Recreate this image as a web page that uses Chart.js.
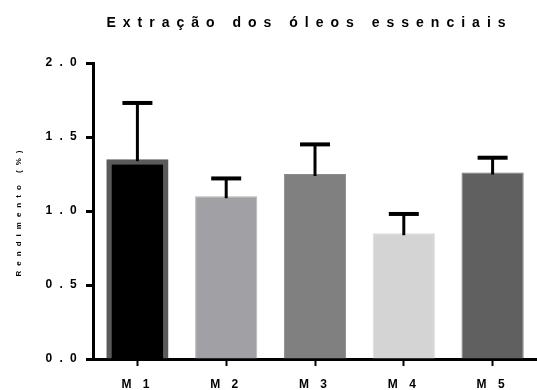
<!DOCTYPE html>
<html>
<head>
<meta charset="utf-8">
<script src="https://cdn.jsdelivr.net/npm/chart.js@4/dist/chart.umd.min.js"></script>
<style>
    html, body { margin: 0; padding: 0; background: #fff; }
    canvas { display: block; }
</style>
</head>
<body>
<canvas id="oilChart" width="537" height="390"></canvas>
<script>
// ===================================
// DATA
// ===================================
const titleText = 'Extração dos óleos essenciais';
const yTitle = 'Rendimento (%)';
const samples = ['M 1', 'M 2', 'M 3', 'M 4', 'M 5'];
const yields = [1.35, 1.10, 1.25, 0.85, 1.26];
const yieldErrors = [0.38, 0.12, 0.20, 0.13, 0.10];
const yTicks = [0.0, 0.5, 1.0, 1.5, 2.0];

const fillColors = ['#000000', '#a1a0a5', '#808080', '#d4d4d4', '#606060'];
const edgeColors = ['#5a5a5a', '#b4b4b8', '#8c8c8c', '#dcdcdc', '#6c6c6c'];
const edgeWidths = [5, 1, 1, 1, 1];

const FONT = "'Liberation Sans', Arial, sans-serif";

// ===================================
// PLUGINS
// ===================================

// Upper error bars, drawn from the bar scales
const errorBars = {
    id: 'errorBars',
    afterDatasetsDraw(chart) {
        const ctx = chart.ctx;
        const meta = chart.getDatasetMeta(0);
        const yScale = chart.scales.y;
        ctx.save();
        ctx.strokeStyle = '#000';
        meta.data.forEach((bar, i) => {
            const top = yScale.getPixelForValue(yields[i] + yieldErrors[i]);
            const base = yScale.getPixelForValue(yields[i]) + 2;
            ctx.lineWidth = 3;
            ctx.beginPath();
            ctx.moveTo(bar.x, base);
            ctx.lineTo(bar.x, top);
            ctx.stroke();
            ctx.lineWidth = 4;
            ctx.beginPath();
            ctx.moveTo(bar.x - 15, top);
            ctx.lineTo(bar.x + 15, top);
            ctx.stroke();
        });
        ctx.restore();
    }
};

// Spaced-out title over the plot
const spacedTitle = {
    id: 'spacedTitle',
    afterDraw(chart) {
        const ctx = chart.ctx;
        const area = chart.chartArea;
        ctx.save();
        ctx.font = 'bold 14px ' + FONT;
        ctx.letterSpacing = '7px';
        ctx.fillStyle = '#000';
        ctx.textAlign = 'center';
        ctx.textBaseline = 'alphabetic';
        ctx.fillText(titleText, (area.left + area.right) / 2 - 5.5, 27);
        ctx.restore();
    }
};

// wrap a scale method so its text is drawn with letter spacing
function withSpacing(obj, method, spacing, ctx) {
    const orig = obj[method];
    obj[method] = function (...args) {
        const old = ctx.letterSpacing;
        ctx.letterSpacing = spacing;
        orig.apply(this, args);
        ctx.letterSpacing = old;
    };
}

// ===================================
// CHART
// ===================================
const ctx = document.getElementById('oilChart').getContext('2d');

const oilChart = new Chart(ctx, {
    type: 'bar',
    data: {
        labels: samples,
        datasets: [{
            data: yields,
            backgroundColor: fillColors,
            borderColor: edgeColors,
            borderWidth: edgeWidths,
            borderSkipped: 'start',
            barPercentage: 0.70,
            categoryPercentage: 1.0
        }]
    },
    options: {
        responsive: false,
        animation: false,
        devicePixelRatio: 1,
        layout: {
            padding: { top: 63, right: 0, bottom: 0, left: 0 }
        },
        plugins: {
            legend: { display: false },
            title: { display: false },
            tooltip: { enabled: false }
        },
        scales: {
            x: {
                grid: {
                    display: true,
                    offset: false,
                    drawOnChartArea: false,
                    drawTicks: true,
                    tickLength: 7,
                    tickWidth: 2,
                    tickColor: '#000'
                },
                border: { display: true, color: '#000', width: 3 },
                ticks: {
                    color: '#000',
                    padding: 11,
                    font: { family: FONT, size: 12, weight: 'bold' }
                },
                afterFit(scale) { scale.height = 31; }
            },
            y: {
                min: 0,
                max: 2,
                afterBuildTicks(scale) {
                    scale.ticks = yTicks.map(v => ({ value: v }));
                },
                grid: {
                    display: true,
                    drawOnChartArea: false,
                    drawTicks: true,
                    tickLength: 7,
                    tickWidth: 3,
                    tickColor: '#000'
                },
                border: { display: true, color: '#000', width: 3 },
                ticks: {
                    color: '#000',
                    padding: 2,
                    font: { family: FONT, size: 12, weight: 'bold' },
                    callback: v => Number(v).toFixed(1)
                },
                title: {
                    display: true,
                    text: yTitle,
                    color: '#000',
                    padding: { top: 14, bottom: 0 },
                    font: { family: FONT, size: 8, weight: 'bold' }
                },
                afterFit(scale) { scale.width = 93; }
            }
        }
    },
    plugins: [errorBars, spacedTitle]
});

withSpacing(oilChart.scales.y, 'drawLabels', '7.3px', ctx);
withSpacing(oilChart.scales.x, 'drawLabels', '4px', ctx);
withSpacing(oilChart.scales.y, 'drawTitle', '5px', ctx);
oilChart.draw();
</script>
</body>
</html>
